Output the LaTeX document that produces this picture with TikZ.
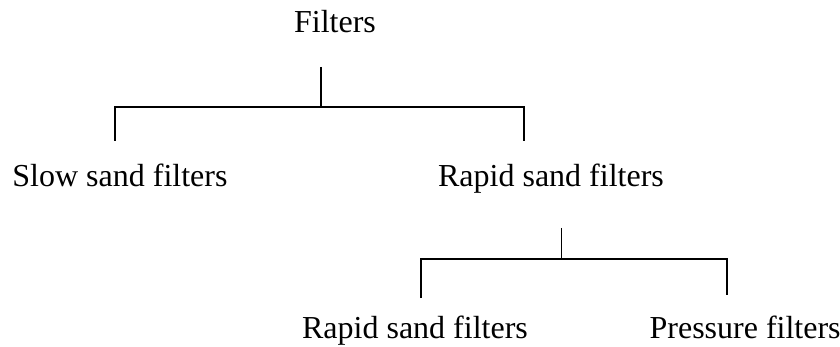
\documentclass[tikz,border=0pt]{standalone}
\usepackage{fontspec}
\setmainfont{Liberation Serif}
\usepackage{tikz}

\begin{document}
\begin{tikzpicture}[x=0.5pt,y=-0.5pt,line width=0.6pt,
  lbl/.style={inner sep=0pt,anchor=base,font=\fontsize{16}{19}\selectfont}]
  \useasboundingbox (0,0) rectangle (840,347);

  % labels
  \node[lbl] (filters) at (335,33) {Filters};
  \node[lbl] (slow) at (120,187) {Slow sand filters};
  \node[lbl] (rapid) at (551,187) {Rapid sand filters};
  \node[lbl] (rapid2) at (415,338) {Rapid sand filters};
  \node[lbl,anchor=base west] (press) at (649,338) {Pressure filters};

  % branch points
  \coordinate (filt-out) at (321,67);
  \coordinate (filt-join) at (321,107);
  \coordinate (slow-in) at (115,141);
  \coordinate (rapid-in) at (524,141);
  \coordinate (rapid-out) at (561.5,228);
  \coordinate (rapid-join) at (561.5,259);
  \coordinate (rapid2-in) at (421,298);
  \coordinate (press-in) at (727,295);

  %first level
  \draw[-] (filt-out) -- (filt-join);
  \draw[-] (slow-in) |- (filt-join) -| (rapid-in);
  %second level
  \draw[-] (rapid-out) -- (rapid-join);
  \draw[-] (rapid2-in) |- (rapid-join) -| (press-in);

\end{tikzpicture}
\end{document}
